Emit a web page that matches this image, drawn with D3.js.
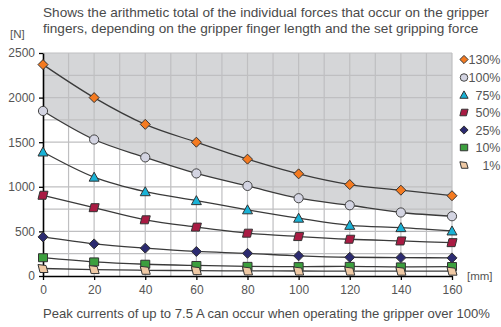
<!DOCTYPE html>
<html><head><meta charset="utf-8">
<script src="https://cdn.jsdelivr.net/npm/d3@7"></script>
<style>
body{margin:0;background:#fff;}
svg{display:block;font-family:"Liberation Sans",Arial,sans-serif;}
</style></head>
<body><svg id="c" width="501" height="327"></svg>
<script>
const lengths = [0, 20, 40, 60, 80, 100, 120, 140, 160];
const f130 = [2370, 2000, 1700, 1500, 1310, 1145, 1025, 962, 900];
const f100 = [1850, 1530, 1330, 1150, 1010, 872, 793, 712, 670];
const f75  = [1390, 1108, 945, 845, 742, 648, 568, 542, 505];
const f50  = [905, 766, 630, 548, 480, 442, 412, 393, 374];
const f25  = [438, 360, 312, 275, 254, 226, 210, 206, 203];
const f10  = [205, 158, 132, 118, 108, 105, 108, 102, 106];
const f1   = [84, 72, 64, 60, 57, 56, 55, 54, 54];
const seriesNames = ["130%", "100%", "75%", "50%", "25%", "10%", "1%"];
const yTicks = [0, 500, 1000, 1500, 2000, 2500];
const xTicks = [0, 20, 40, 60, 80, 100, 120, 140, 160];

const seriesData = [f130, f100, f75, f50, f25, f10, f1];
const colors = ["#f47a20", "#d3d4e2", "#19b2d6", "#a91b43", "#2c2b70", "#3c9f3e", "#efc9a4"];
const shapes = ["diamond", "circle", "triangle", "para", "diamond", "square", "quad"];

const svg = d3.select("#c");
const x = d3.scaleLinear().domain([0, 160]).range([43, 452]);
const y = d3.scaleLinear().domain([0, 2500]).range([276, 53]);
const curve = d3.curveMonotoneX;

// gray area above 100% curve
const pts100 = lengths.map((l, i) => [l, f100[i]]);
svg.append("path")
  .attr("d", d3.area().x(d => x(d[0])).y0(y(2500)).y1(d => y(d[1])).curve(curve)(pts100))
  .attr("fill", "#d5d6d8");

// grid
const g = svg.append("g").attr("stroke", "#bfbfc1").attr("stroke-width", 1.2);
d3.range(10, 161, 10).forEach(v => g.append("line").attr("x1", x(v)).attr("x2", x(v)).attr("y1", y(0)).attr("y2", y(2500)));
d3.range(250, 2501, 250).forEach(v => g.append("line").attr("x1", x(0)).attr("x2", x(160)).attr("y1", y(v)).attr("y2", y(v)));

// lines
const line = d3.line().x(d => x(d[0])).y(d => y(d[1])).curve(curve);
seriesData.forEach(arr => {
  svg.append("path").attr("d", line(lengths.map((l, i) => [l, arr[i]])))
    .attr("fill", "none").attr("stroke", "#3a3a3a").attr("stroke-width", 1.3);
});

// axes
const xAxis = d3.axisBottom(x).tickValues(xTicks).tickFormat(d3.format("d")).tickSize(4).tickSizeOuter(0);
const yAxis = d3.axisLeft(y).tickValues(yTicks).tickFormat(d3.format("d")).tickSize(4).tickSizeOuter(0);
const xg = svg.append("g").attr("transform", `translate(0,${y(0)})`).call(xAxis);
const yg = svg.append("g").attr("transform", `translate(${x(0)},0)`).call(yAxis);
[xg, yg].forEach(a => {
  a.select(".domain").attr("stroke", "#000").attr("stroke-width", 1.6);
  a.selectAll(".tick line").attr("stroke", "#000").attr("stroke-width", 1.3);
  a.selectAll(".tick text").attr("fill", "#555").attr("font-size", 12).attr("font-family", "Liberation Sans, Arial, sans-serif");
});
xg.selectAll(".tick text").attr("dy", "0.95em");
yg.selectAll(".tick text").attr("x", -8);

function markerPath(shape) {
  switch (shape) {
    case "diamond": return "M0,-5L5,0L0,5L-5,0Z";
    case "triangle": return "M0,-5L5,4L-5,4Z";
    case "para": return "M-3,-4L5,-4L3,4L-5,4Z";
    case "square": return "M-4.5,-4L4.5,-4L4.5,4L-4.5,4Z";
    case "quad": return "M-5,-4L3,-3L5,4L-3,4Z";
  }
}
function drawMarker(sel, shape, color, cx, cy, s) {
  s = s || 1;
  if (shape === "circle") {
    sel.append("circle").attr("cx", cx).attr("cy", cy).attr("r", 4.6 * s)
      .attr("fill", color).attr("stroke", "#444").attr("stroke-width", 1);
  } else {
    sel.append("path").attr("d", markerPath(shape)).attr("transform", `translate(${cx},${cy}) scale(${s})`)
      .attr("fill", color).attr("stroke", "#333").attr("stroke-width", 1 / s);
  }
}
const mg = svg.append("g");
seriesData.forEach((arr, si) => {
  arr.forEach((v, i) => drawMarker(mg, shapes[si], colors[si], x(lengths[i]), y(v)));
});

// legend
const legY = [59.5, 77.5, 95, 112.5, 130, 147.5, 165];
seriesNames.forEach((n, i) => {
  drawMarker(svg, shapes[i], colors[i], 464, legY[i], 0.82);
  svg.append("text").attr("x", 500.5).attr("y", legY[i] + 4.5).attr("text-anchor", "end")
    .attr("font-size", 12.5).attr("fill", "#555").text(n);
});

// texts
svg.append("text").attr("x", 43).attr("y", 17).attr("font-size", 13.6).attr("fill", "#4a4a4a")
  .text("Shows the arithmetic total of the individual forces that occur on the gripper");
svg.append("text").attr("x", 43).attr("y", 33).attr("font-size", 13.6).attr("fill", "#4a4a4a")
  .text("fingers, depending on the gripper finger length and the set gripping force");
svg.append("text").attr("x", 10).attr("y", 38).attr("font-size", 11.5).attr("fill", "#555").text("[N]");
svg.append("text").attr("x", 467).attr("y", 280).attr("font-size", 11.5).attr("fill", "#555").text("[mm]");
svg.append("text").attr("x", 43).attr("y", 318).attr("font-size", 13.4).attr("fill", "#4a4a4a")
  .attr("textLength", 447).attr("lengthAdjust", "spacingAndGlyphs")
  .text("Peak currents of up to 7.5 A can occur when operating the gripper over 100%");
</script></body></html>
